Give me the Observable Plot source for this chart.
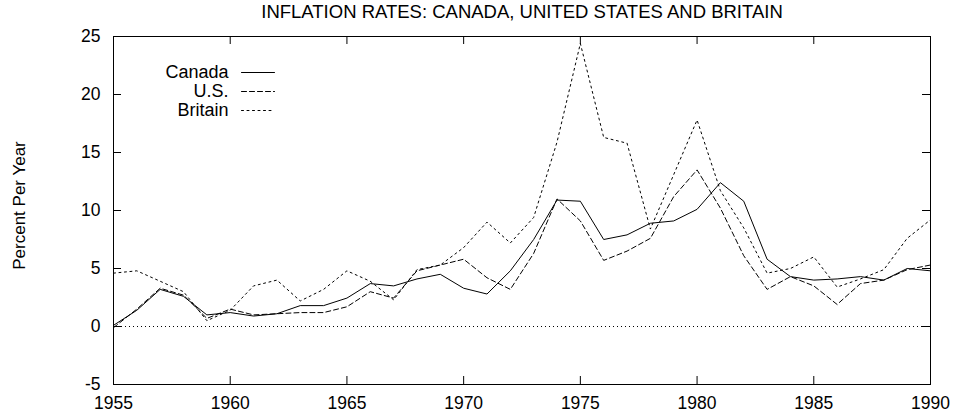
<!DOCTYPE html>
<html><head><meta charset="utf-8">
<script src="https://cdn.jsdelivr.net/npm/d3@7"></script>
<script src="https://cdn.jsdelivr.net/npm/@observablehq/plot@0.6"></script>
<style>body{margin:0;background:#fff}</style>
</head><body><div id="chart"></div>
<script>
const years   = [1955,1956,1957,1958,1959,1960,1961,1962,1963,1964,1965,1966,1967,1968,1969,1970,1971,1972,1973,1974,1975,1976,1977,1978,1979,1980,1981,1982,1983,1984,1985,1986,1987,1988,1989,1990];
const canada  = [0.1,1.4,3.2,2.6,1.0,1.2,0.9,1.1,1.8,1.8,2.45,3.7,3.5,4.1,4.5,3.3,2.8,4.8,7.5,10.9,10.8,7.5,7.9,8.9,9.1,10.1,12.4,10.8,5.8,4.3,4.0,4.1,4.3,4.0,5.0,4.8];
const us      = [-0.1,1.5,3.3,2.7,0.7,1.5,1.0,1.1,1.2,1.2,1.7,3.0,2.45,4.8,5.3,5.8,4.2,3.2,6.3,11.0,9.1,5.7,6.5,7.6,11.2,13.5,10.2,6.1,3.2,4.3,3.5,1.9,3.7,4.0,4.9,5.3];
const britain = [4.6,4.8,3.9,3.0,0.5,1.4,3.5,4.0,2.2,3.2,4.8,3.9,2.3,4.9,5.3,6.8,9.0,7.2,9.4,15.9,24.4,16.3,15.8,8.4,13.1,17.8,11.7,8.5,4.6,5.0,6.0,3.4,4.1,4.9,7.6,9.2];
const seriesNames = ["Canada", "U.S.", "Britain"];
const xTicks = [1955,1960,1965,1970,1975,1980,1985,1990];
const yTicks = [-5,0,5,10,15,20,25];
const title = "INFLATION RATES: CANADA, UNITED STATES AND BRITAIN";
const yLabel = "Percent Per Year";

const seriesValues = [canada, us, britain];
const dashes = [null, "5,3", "2,3.5"];
const rows = seriesNames.map((name, i) => ({
  name, dash: dashes[i],
  points: years.map((year, j) => ({year, value: seriesValues[i][j]}))
}));

const W = 957, H = 415, ML = 113, MR = 27, MT = 36, MB = 31;
const frameW = W - ML - MR, frameH = H - MT - MB, TICK = 8;

const lineShape = {draw(ctx, l) { ctx.moveTo(0, 0); ctx.lineTo(0, -l); }};

const marks = [
  Plot.ruleY([0], {stroke: "black", strokeDasharray: "1,3"}),
  ...rows.map(r => Plot.line(r.points, {x: "year", y: "value", stroke: "black", strokeWidth: 1, strokeDasharray: r.dash})),
  // legend
  ...rows.flatMap((r, i) => [
    Plot.text([r.name], {frameAnchor: "top-left", dx: 115, dy: 36 + 19 * i, text: d => d, textAnchor: "end", lineAnchor: "middle", fontSize: 18}),
    Plot.vector([r.name], {frameAnchor: "top-left", dx: 128, dy: 36 + 19 * i, rotate: 90, length: 33, anchor: "start", shape: lineShape, stroke: "black", strokeWidth: 1, strokeDasharray: r.dash})
  ]),
  // inward ticks on all four sides
  Plot.tickX(xTicks, {x: d => d, insetTop: frameH - TICK, stroke: "black"}),
  Plot.tickX(xTicks, {x: d => d, insetBottom: frameH - TICK, stroke: "black"}),
  Plot.tickY(yTicks, {y: d => d, insetRight: frameW - TICK, stroke: "black"}),
  Plot.tickY(yTicks, {y: d => d, insetLeft: frameW - TICK, stroke: "black"}),
  Plot.axisX(xTicks, {anchor: "bottom", tickSize: 0, tickPadding: 12, tickFormat: d => String(d), label: null}),
  Plot.axisY(yTicks, {anchor: "left", tickSize: 0, tickPadding: 13, tickFormat: d => String(d), label: null}),
  Plot.frame({stroke: "black", strokeWidth: 1}),
  Plot.text([title], {frameAnchor: "top", dy: -24, text: d => d, lineAnchor: "middle", textAnchor: "middle", fontSize: 18.5}),
  Plot.text([yLabel], {frameAnchor: "left", rotate: -90, dx: -94, dy: -5, text: d => d, textAnchor: "middle", lineAnchor: "middle", fontSize: 17})
];

const chart = Plot.plot({
  width: W, height: H,
  marginLeft: ML, marginRight: MR, marginTop: MT, marginBottom: MB,
  style: {fontFamily: "'Liberation Sans', Arial, sans-serif", fontSize: "17.5px", background: "white", color: "black"},
  x: {domain: [1955, 1990], label: null},
  y: {domain: [-5, 25], label: null},
  marks
});
document.getElementById("chart").appendChild(chart);
</script>
</body></html>
